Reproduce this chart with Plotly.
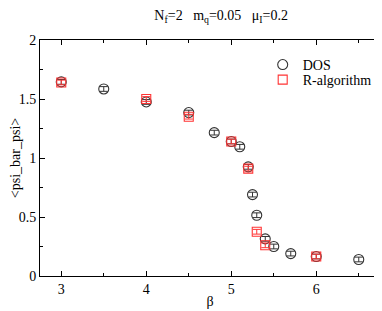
import plotly.graph_objects as go

beta_dos = [3.0, 3.5, 4.0, 4.5, 4.8, 5.0, 5.1, 5.2, 5.25, 5.3, 5.4, 5.5, 5.7, 6.0, 6.5]
pbp_dos = [1.645, 1.585, 1.475, 1.385, 1.215, 1.14, 1.095, 0.925, 0.69, 0.515, 0.315, 0.25, 0.19, 0.165, 0.14]
err_dos = [0.02, 0.02, 0.02, 0.02, 0.02, 0.02, 0.02, 0.02, 0.02, 0.02, 0.02, 0.02, 0.02, 0.02, 0.02]

beta_r = [3.0, 4.0, 4.5, 5.0, 5.2, 5.3, 5.4, 6.0]
pbp_r = [1.64, 1.50, 1.35, 1.14, 0.91, 0.375, 0.26, 0.165]
err_r = [0.02, 0.02, 0.02, 0.02, 0.02, 0.02, 0.02, 0.02]

FONT = "Times New Roman, Liberation Serif, serif"

fig = go.Figure()
fig.add_trace(go.Scatter(
    x=beta_dos, y=pbp_dos, mode="markers", name="DOS", legend="legend",
    marker=dict(symbol="circle-open", size=10, color="#333333", line=dict(width=1.1)),
    error_y=dict(type="data", array=err_dos, color="#333333", thickness=1, width=4),
))
fig.add_trace(go.Scatter(
    x=beta_r, y=pbp_r, mode="markers", name="R-algorithm", legend="legend2",
    marker=dict(symbol="square-open", size=9, color="#ff3333", line=dict(width=1.1)),
    error_y=dict(type="data", array=err_r, color="#ff3333", thickness=1, width=4),
))

axis_common = dict(
    showgrid=False, zeroline=False, showline=True, linecolor="black", linewidth=1,
    mirror="allticks", ticks="inside", ticklen=5, tickcolor="black", automargin=False,
    tickfont=dict(family=FONT, size=14, color="black"),
)
fig.update_xaxes(range=[2.75, 6.75], dtick=1, tick0=3,
                 minor=dict(ticks="inside", ticklen=3, dtick=0.5, tick0=3, tickcolor="black"),
                 title=dict(text="β", font=dict(family=FONT, size=14, color="black"), standoff=0),
                 **axis_common)
fig.update_yaxes(range=[0, 2], dtick=0.5, tick0=0,
                 minor=dict(ticks="inside", ticklen=3, dtick=0.25, tick0=0, tickcolor="black"),
                 title=dict(text="&lt;psi_bar_psi&gt;", font=dict(family=FONT, size=14, color="black"), standoff=4),
                 **axis_common)

legend_common = dict(xanchor="left", yanchor="top", bgcolor="rgba(0,0,0,0)", borderwidth=0,
                     font=dict(family=FONT, size=14, color="black"), itemwidth=30)

# page has an 8px body margin; figure is sized/margined so the plot area lands where the reference has it
fig.update_layout(
    width=374, height=303,
    margin=dict(l=32, r=2, t=32, b=35, autoexpand=False),
    paper_bgcolor="white", plot_bgcolor="white",
    title=dict(text="N<sub>f</sub>=2   m<sub>q</sub>=0.05   μ<sub>I</sub>=0.2",
               x=0.57, xanchor="center", y=0.977, yanchor="middle",
               font=dict(family=FONT, size=14, color="black")),
    showlegend=True,
    legend=dict(x=0.655, y=0.962, **legend_common),
    legend2=dict(x=0.655, y=0.898, **legend_common),
)

fig.write_html("out.html")
